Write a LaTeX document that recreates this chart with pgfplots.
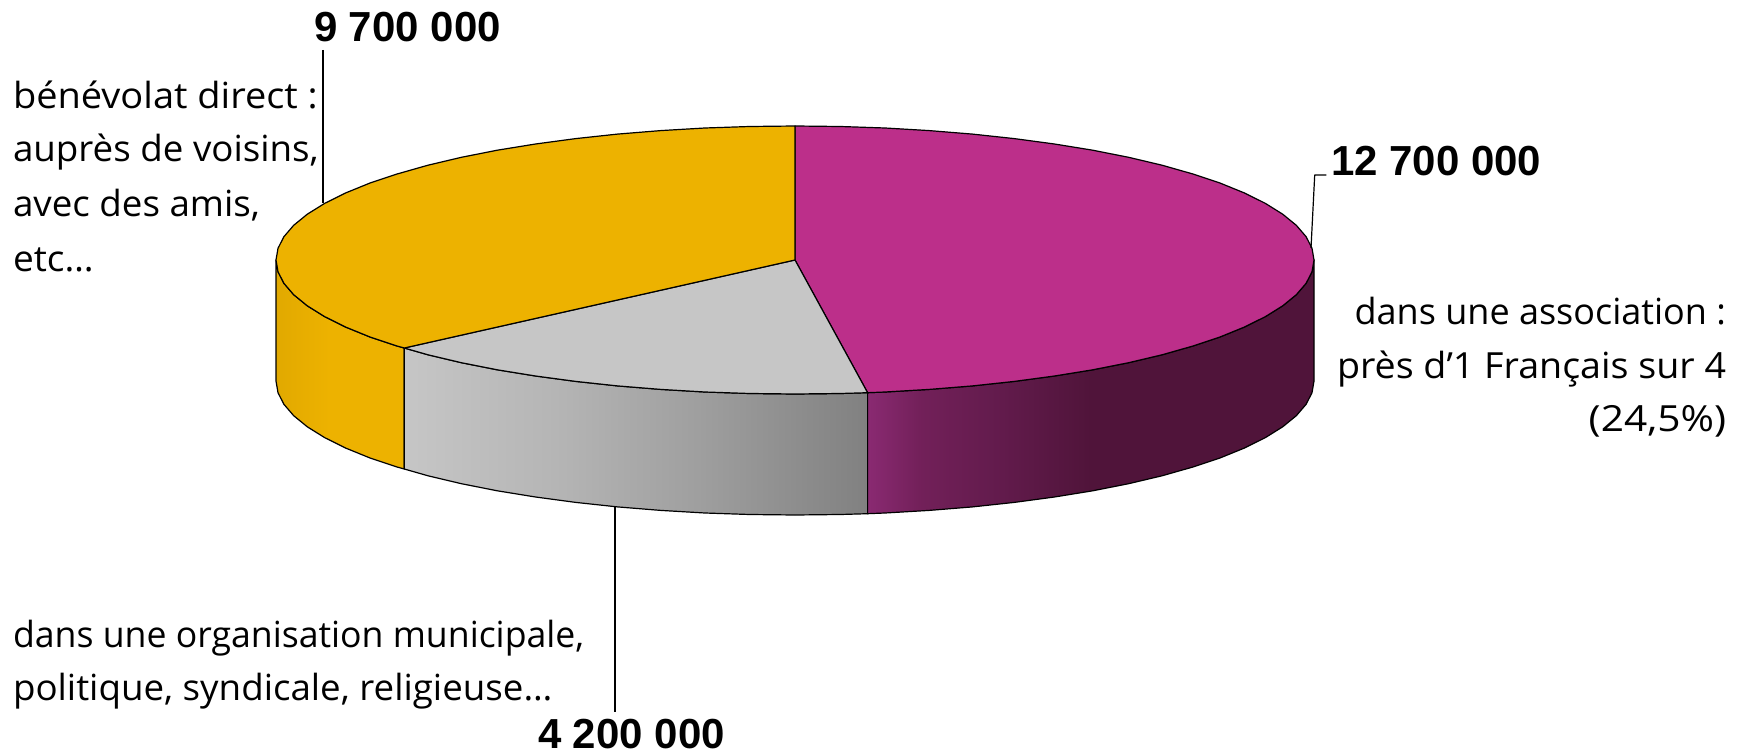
\documentclass[border=0pt]{standalone}
\usepackage{fontspec}
\usepackage{graphicx}
\setmainfont{Open Sans}
\newfontfamily\numfont{Liberation Sans}[BoldFont={Liberation Sans Bold}]
\usepackage{pgfplots}
\pgfplotsset{compat=1.18}
\tikzset{lab/.style={inner sep=0pt, outer sep=0pt}}

\definecolor{magentatop}{HTML}{BC2F8A}
\definecolor{yellowtop}{HTML}{EDB200}
\definecolor{graytop}{HTML}{C6C6C6}

% wall gradients, position 25bp = left edge, 75bp = right edge
\pgfdeclarehorizontalshading{yellowwall}{100bp}{
  color(0bp)=(yellowtop!95!black); color(25bp)=(yellowtop!95!black);
  color(46bp)=(yellowtop); color(100bp)=(yellowtop)}
\pgfdeclarehorizontalshading{graywall}{100bp}{
  color(0bp)=(graytop); color(25bp)=(graytop);
  color(42bp)=(graytop!91!black); color(57bp)=(graytop!80!black);
  color(75bp)=(graytop!65!black); color(100bp)=(graytop!65!black)}
\definecolor{magA}{HTML}{8A2A72}
\definecolor{magB}{HTML}{722059}
\definecolor{magC}{HTML}{621B4C}
\definecolor{magD}{HTML}{50143A}
\pgfdeclarehorizontalshading{magwall}{100bp}{
  color(0bp)=(magA); color(25bp)=(magA); color(31bp)=(magB);
  color(40bp)=(magC); color(50bp)=(magD); color(100bp)=(magD)}

% #1 = horizontal stretch of the line, to keep the reference's line widths
\newcommand{\txt}[2]{\scalebox{#1}[1]{\fontsize{18}{18}\selectfont #2}}
\newcommand{\num}{\numfont\bfseries\fontsize{21}{21}\selectfont}

\begin{document}
\begin{tikzpicture}
\useasboundingbox (0,0) rectangle (872pt,377pt);
\begin{axis}[
    at={(0,0)}, anchor=south west,
    scale only axis,
    width=872pt, height=377pt,
    xmin=0, xmax=1744,
    ymin=0, ymax=754,
    y dir=reverse,
    hide axis,
    clip=false,
    every axis plot/.append style={line width=0.6pt, line join=round},
]

% side walls
\addplot[draw=black, shading=yellowwall] coordinates {
 (276,260) (278,271.7) (283.9,283.3) (293.7,294.7) (307.3,305.8) (324.6,316.6)
 (345.5,327) (369.8,336.9) (397.4,346.1) (404.3,348)
 (404.3,469) (397.4,467.1) (369.8,457.9) (345.5,448) (324.6,437.6)
 (307.3,426.8) (293.7,415.7) (283.9,404.3) (278,392.7) (276,381)
} --cycle;
\addplot[draw=black, shading=graywall] coordinates {
 (404.3,348) (428,354.8) (461.4,362.7) (497.3,369.8) (535.5,376) (575.7,381.4)
 (617.5,385.9) (660.7,389.4) (704.9,392) (749.7,393.5) (795,394) (840.3,393.5) (867.6,392.7)
 (867.6,513.7) (840.3,514.5) (795,515) (749.7,514.5) (704.9,513) (660.7,510.4)
 (617.5,506.9) (575.7,502.4) (535.5,497) (497.3,490.8) (461.4,483.7) (428,475.8) (404.3,469)
} --cycle;
\addplot[draw=black, shading=magwall] coordinates {
 (867.6,392.7) (885.1,392) (929.3,389.4) (972.5,385.9) (1014.3,381.4) (1054.5,376)
 (1092.7,369.8) (1128.6,362.7) (1162,354.8) (1192.6,346.1) (1220.2,336.9) (1244.5,327)
 (1265.4,316.6) (1282.7,305.8) (1296.3,294.7) (1306.1,283.3) (1312,271.7) (1314,260)
 (1314,381) (1312,392.7) (1306.1,404.3) (1296.3,415.7) (1282.7,426.8) (1265.4,437.6)
 (1244.5,448) (1220.2,457.9) (1192.6,467.1) (1162,475.8) (1128.6,483.7) (1092.7,490.8)
 (1054.5,497) (1014.3,502.4) (972.5,506.9) (929.3,510.4) (885.1,513) (867.6,513.7)
} --cycle;

% top: 12 700 000
\addplot[draw=black, fill=magentatop] coordinates {
 (795,260) (795,126) (840.3,126.5) (885.1,128) (929.3,130.6) (972.5,134.1) (1014.3,138.6)
 (1054.5,144) (1092.7,150.2) (1128.6,157.3) (1162,165.2) (1192.6,173.9) (1220.2,183.1)
 (1244.5,193) (1265.4,203.4) (1282.7,214.2) (1296.3,225.3) (1306.1,236.7) (1312,248.3)
 (1314,260) (1312,271.7) (1306.1,283.3) (1296.3,294.7) (1282.7,305.8) (1265.4,316.6)
 (1244.5,327) (1220.2,336.9) (1192.6,346.1) (1162,354.8) (1128.6,362.7) (1092.7,369.8)
 (1054.5,376) (1014.3,381.4) (972.5,385.9) (929.3,389.4) (885.1,392) (867.6,392.7)
} --cycle;
% top: 4 200 000
\addplot[draw=black, fill=graytop] coordinates {
 (795,260) (867.6,392.7) (840.3,393.5) (795,394) (749.7,393.5) (704.9,392) (660.7,389.4)
 (617.5,385.9) (575.7,381.4) (535.5,376) (497.3,369.8) (461.4,362.7) (428,354.8) (404.3,348)
} --cycle;
% top: 9 700 000
\addplot[draw=black, fill=yellowtop] coordinates {
 (795,260) (404.3,348) (397.4,346.1) (369.8,336.9) (345.5,327) (324.6,316.6) (307.3,305.8)
 (293.7,294.7) (283.9,283.3) (278,271.7) (276,260) (278,248.3) (283.9,236.7) (293.7,225.3)
 (307.3,214.2) (324.6,203.4) (345.5,193) (369.8,183.1) (397.4,173.9) (428,165.2) (461.4,157.3)
 (497.3,150.2) (535.5,144) (575.7,138.6) (617.5,134.1) (660.7,130.6) (704.9,128) (749.7,126.5)
 (795,126)
} --cycle;

% leader lines
\addplot[black] coordinates {(323,50) (323,203)};
\addplot[black] coordinates {(1311,248) (1314.7,175) (1326.4,175)};
\addplot[black] coordinates {(615,507) (615,712)};

% values
\node[lab, anchor=base west] at (axis cs:314,42) {\num 9 700 000};
\node[lab, anchor=base west] at (axis cs:1331,176) {\num 12 700 000};
\node[lab, anchor=base west] at (axis cs:538,748) {\num 4 200 000};

% descriptions
\node[lab, anchor=base west] at (axis cs:13,109) {\txt{1.055}{bénévolat direct :}};
\node[lab, anchor=base west] at (axis cs:13,162) {\txt{1.02}{auprès de voisins,}};
\node[lab, anchor=base west] at (axis cs:13,217) {\txt{1.02}{avec des amis,}};
\node[lab, anchor=base west] at (axis cs:13,271) {\txt{1.03}{etc…}};
\node[lab, anchor=base east] at (axis cs:1726,324) {\txt{1}{dans une association :}};
\node[lab, anchor=base east] at (axis cs:1726,378) {\txt{1.045}{près d’1 Français sur 4}};
\node[lab, anchor=base east] at (axis cs:1726,431) {\txt{1.13}{(24,5\%)}};
\node[lab, anchor=base west] at (axis cs:13,647) {\txt{0.99}{dans une organisation municipale,}};
\node[lab, anchor=base west] at (axis cs:13,700) {\txt{1.02}{politique, syndicale, religieuse…}};

\end{axis}
\end{tikzpicture}
\end{document}
